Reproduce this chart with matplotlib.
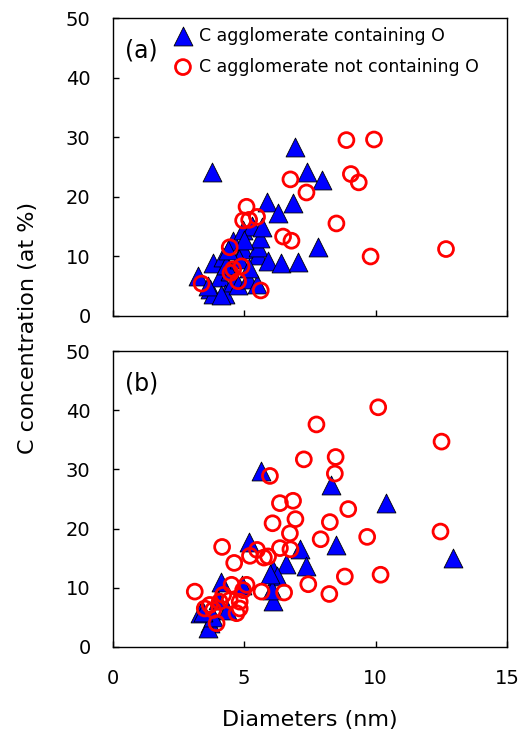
import numpy as np
import matplotlib
matplotlib.use('Agg')
import matplotlib.pyplot as plt

# (a) C agglomerate containing O
a_tri_x = [3.25, 3.69, 3.78, 3.82, 3.82, 4.07, 4.20, 4.26, 4.45, 4.58, 4.58, 4.77, 4.96,
           4.96, 5.15, 5.30, 5.49, 5.53, 5.53, 5.60, 5.66, 5.87, 5.91, 6.27, 6.42, 6.84,
           6.93, 7.03, 7.40, 7.82, 7.98, 4.30, 4.80, 5.20, 3.63, 4.10, 4.40, 5.00]
a_tri_y = [6.7, 4.5, 24.1, 3.7, 8.8, 6.5, 9.9, 3.6, 7.5, 5.6, 12.6, 5.2, 11.2,
           14.4, 6.2, 15.0, 5.4, 10.2, 11.5, 13.1, 14.9, 19.1, 9.2, 17.2, 8.8, 19.0,
           28.4, 9.1, 24.2, 11.6, 22.8, 8.5, 9.5, 8.0, 5.0, 3.5, 11.0, 12.8]
# (a) C agglomerate not containing O
a_cir_x = [8.89, 9.94, 9.06, 9.36, 6.76, 7.37, 8.51, 12.68, 9.81, 6.48, 6.80, 5.09,
           4.96, 5.19, 5.49, 4.45, 4.90, 4.58, 4.48, 4.77, 3.38, 5.63]
a_cir_y = [29.5, 29.6, 23.8, 22.4, 22.9, 20.7, 15.5, 11.2, 9.95, 13.3, 12.6, 18.3,
           16.0, 16.1, 16.6, 11.5, 8.3, 7.8, 7.2, 5.8, 5.4, 4.25]

# (b) C agglomerate containing O
b_tri_x = [5.63, 8.30, 10.39, 12.93, 8.51, 5.19, 7.12, 6.59, 7.37, 6.10, 6.23, 6.08,
           6.04, 4.10, 4.90, 3.31, 3.69, 3.63, 4.01, 4.33, 3.82, 5.98, 3.44]
b_tri_y = [29.7, 27.4, 24.3, 15.0, 17.2, 17.8, 16.5, 14.1, 13.7, 13.0, 12.0, 7.8,
           9.6, 11.0, 10.5, 5.7, 4.0, 3.2, 7.9, 6.25, 5.1, 12.4, 5.9]
# (b) C agglomerate not containing O
b_cir_x = [10.10, 7.75, 12.51, 8.48, 7.27, 8.45, 5.98, 6.86, 6.36, 8.96, 6.95, 6.08,
           8.26, 6.74, 12.47, 7.91, 9.68, 4.16, 5.49, 6.36, 6.76, 5.22, 5.75, 5.91,
           4.62, 8.83, 10.19, 7.44, 6.52, 8.24, 5.66, 3.12, 5.09, 4.52, 4.20, 4.07,
           3.69, 4.45, 4.83, 4.71, 4.83, 3.95, 3.50, 3.82, 4.96]
b_cir_y = [40.5, 37.6, 34.7, 32.1, 31.7, 29.3, 28.9, 24.7, 24.3, 23.3, 21.6, 20.9,
           21.1, 19.2, 19.5, 18.2, 18.6, 16.9, 16.4, 16.7, 16.5, 15.4, 15.1, 15.3,
           14.2, 11.9, 12.2, 10.6, 9.2, 8.95, 9.35, 9.35, 10.5, 10.5, 8.8, 7.65,
           7.1, 7.9, 7.65, 5.7, 6.5, 4.0, 6.5, 6.25, 9.6]

labels = ['C agglomerate containing O', 'C agglomerate not containing O']

fig = plt.figure(figsize=(5.27, 7.36), dpi=100)
ax1 = fig.add_axes([0.214, 0.571, 0.748, 0.4045])
ax2 = fig.add_axes([0.214, 0.121, 0.748, 0.402])

panels = [(ax1, a_tri_x, a_tri_y, a_cir_x, a_cir_y, '(a)'),
          (ax2, b_tri_x, b_tri_y, b_cir_x, b_cir_y, '(b)')]

for ax, tx, ty, cx, cy, tag in panels:
    ax.scatter(tx, ty, marker='^', s=185, c='#0000ff', edgecolors='black',
               linewidths=0.6, zorder=2, label=labels[0])
    ax.scatter(cx, cy, marker='o', s=115, facecolors='none', edgecolors='#ff0000',
               linewidths=2.0, zorder=3, label=labels[1])
    ax.set_xlim(0, 15)
    ax.set_ylim(0, 50)
    ax.set_xticks([0, 5, 10, 15])
    ax.set_yticks(np.arange(0, 51, 10))
    ax.tick_params(direction='in', length=4, width=1, labelsize=14, pad=16,
                   top=False, right=False)
    for sp in ax.spines.values():
        sp.set_linewidth(1.0)
    ax.text(0.072, 0.892, tag, transform=ax.transAxes, fontsize=17,
            ha='center', va='center')

ax1.tick_params(labelbottom=False)
ax1.legend(loc='upper left', bbox_to_anchor=(0.156, 0.970), borderaxespad=0,
           borderpad=0, frameon=False, fontsize=12.5, scatterpoints=1,
           handlelength=1.0, handletextpad=0.42, labelspacing=0.73)

ax2.set_xlabel('Diameters (nm)', fontsize=16, labelpad=16)
fig.text(0.053, 0.554, 'C concentration (at %)', rotation=90, fontsize=16,
         ha='center', va='center')

fig.savefig('out.png', dpi=100)
